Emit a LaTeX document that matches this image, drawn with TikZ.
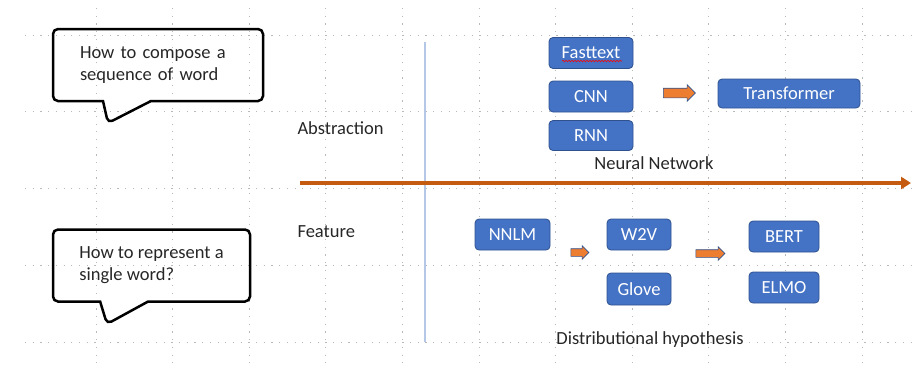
\documentclass[tikz,border=0pt]{standalone}
\usepackage{fontspec}
\setmainfont{Carlito}
\usepackage{tikz}
\usetikzlibrary{shapes, shapes.arrows, shapes.callouts, arrows.meta, decorations.pathmorphing}
\usepackage{xcolor}
\definecolor{boxblue}{HTML}{4472C4}
\definecolor{boxline}{HTML}{2F528F}
\definecolor{arroworange}{HTML}{ED7D31}
\definecolor{axisorange}{HTML}{C55A11}
\definecolor{sepblue}{HTML}{B4C7E7}

\begin{document}
\begin{tikzpicture}[x=1pt, y=-1pt,
		font=\fontsize{18.5}{22}\selectfont]
		\tikzstyle{gridline}=[gray!55, line width=1pt, dash pattern=on 1.2pt off 6.5pt]
		\tikzstyle{model}=[draw=boxline, line width=0.8pt, fill=boxblue, text=white, rounded corners=4pt, inner sep=0pt]
		\tikzstyle{nextarrow}=[single arrow, draw=boxline, line width=0.6pt, fill=arroworange, inner xsep=0pt]
		\tikzstyle{bubble}=[rectangle callout, draw, line width=2.5pt, rounded corners=5pt, align=left, text=black!85, minimum height=72pt]
		\tikzstyle{caption}=[text=black!85]
		\useasboundingbox (0,0) rectangle (913,365);
		% dotted grid
		\foreach \gx in {0,...,10}
		\draw[gridline] (96+76.6*\gx,8) -- (96+76.6*\gx,365);
		\foreach \gy in {0,...,4}
		\draw[gridline] (25,35+76.75*\gy) -- (913,35+76.75*\gy);
		% questions
		\node[bubble, text width=156pt, inner xsep=27pt, minimum width=210pt, callout pointer width=48pt,
		callout absolute pointer={(108,123)}] (compose) at (158,65) {How to compose a\\ sequence of word};
		\node[bubble, inner xsep=10pt, minimum width=197pt, callout pointer width=48pt,
		callout absolute pointer={(107,324)}] (represent) at (151.5,265.5) {How to represent a\\ single word?};
		\node[caption, anchor=west] (abstraction) at (294,128) {Abstraction};
		\node[caption, anchor=west] (feature) at (294,232) {Feature};
		% axes
		\coordinate (sep top) at (425,42);
		\coordinate (sep bottom) at (425,342);
		\draw[sepblue, line width=1.5pt] (sep top) -- (sep bottom);
		\coordinate (axis start) at (300,183);
		\coordinate (axis end) at (911,183);
		\draw[axisorange, line width=3.5pt, -{Triangle[length=10pt,width=12pt]}] (axis start) -- (axis end);
		% neural network models
		\node[model, minimum width=84pt, minimum height=31pt] (fast) at (591,53) {Fasttext};
		\draw[red, line width=0.6pt, decorate, decoration={snake, amplitude=0.7pt, segment length=3pt}]
		([xshift=-29pt, yshift=-8pt]fast.center) -- ([xshift=31pt, yshift=-8pt]fast.center);
		\node[model, minimum width=84pt, minimum height=31pt] (cnn) at (591,96.5) {CNN};
		\node[model, minimum width=84pt, minimum height=30pt] (rnn) at (591,135.5) {RNN};
		\node[nextarrow, inner ysep=4.5pt, single arrow head extend=3.5pt, minimum height=32pt] (arrow nn) at (677,93) {};
		\node[model, minimum width=142pt, minimum height=29pt] (transformer) at (789,93.5) {Transformer};
		\node[caption] (neural) at (654,163) {Neural Network};
		% word representations
		\node[model, minimum width=75pt, minimum height=31pt] (nnlm) at (512.5,234.5) {NNLM};
		\node[nextarrow, inner ysep=3.5pt, single arrow head extend=3pt, minimum height=18pt] (arrow w2v) at (578,252.5) {};
		\node[model, minimum width=64pt, minimum height=31pt] (w2v) at (639,234.5) {W2V};
		\node[model, minimum width=64pt, minimum height=32pt] (glove) at (639,289) {Glove};
		\node[nextarrow, inner ysep=3.5pt, single arrow head extend=3pt, minimum height=29pt] (arrow bert) at (708.5,253.5) {};
		\node[model, minimum width=70pt, minimum height=31pt] (bert) at (784,236.5) {BERT};
		\node[model, minimum width=70pt, minimum height=31pt] (elmo) at (784,287.5) {ELMO};
		\node[caption] (distributional) at (650,340) {Distributional hypothesis};
	\end{tikzpicture}
\end{document}
